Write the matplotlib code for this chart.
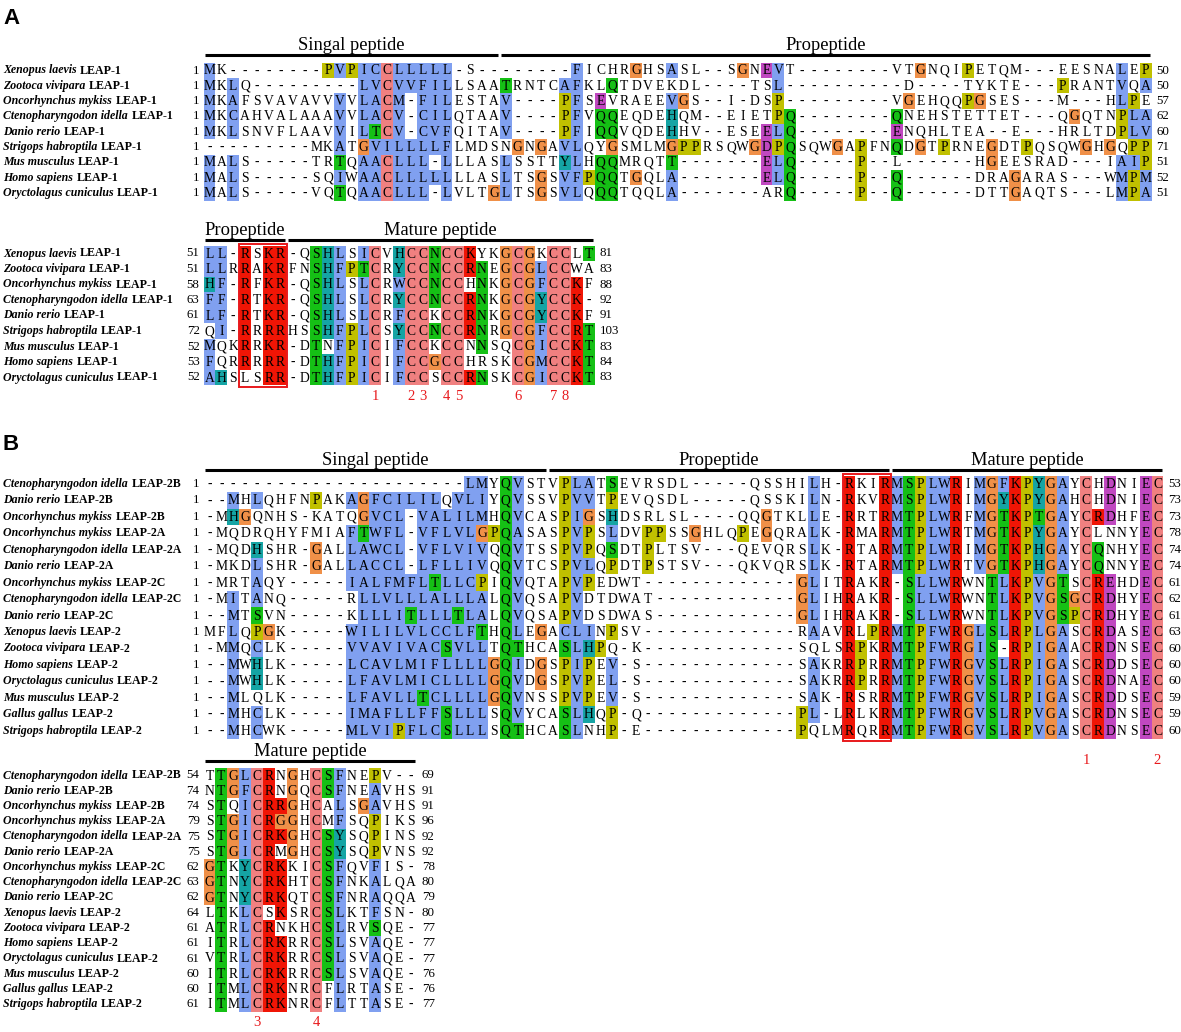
import matplotlib
matplotlib.use("Agg")
import matplotlib.pyplot as plt
from matplotlib.patches import Rectangle

# ---------------- data ----------------
a_species = ["Xenopus laevis", "Zootoca vivipara", "Oncorhynchus mykiss",
             "Ctenopharyngodon idella", "Danio rerio", "Strigops habroptila",
             "Mus musculus", "Homo sapiens", "Oryctolagus cuniculus"]
a_tags = ["LEAP-1"] * 9

a1_seqs = [
    "MK--------PVPICCLLLLL-S--------FICHRGHSASL--SGNEVT--------VTGNQIPETQM---EESNALEP",
    "MKLQ---------LVCVVFILLSAATRNTCAFKLQTDVEKDL----TSL----------D----TYKTE---PRANTVQA",
    "MKAFSVAVAVVVVLACM-FILESTAV----PFSEVRAEEVGS--I-DSP---------VGEHQQPGSES---M---HLPE",
    "MKCAHVALAAAVVLACV-CILQTAAV----PFVQQEQDEHQM--EIETPQ--------QNEHSTETTET---QGQTNPLA",
    "MKLSNVFLAAVVILTCV-CVFQITAV----PFIQQVQDEHHV--ESEELQ--------ENQHLTEA--E---HRLTDPLV",
    "---------MKATGVILLLLFLMDSNGNGAVLQYGSMLMGPPRSQWGDPQSQWGAPFNQDGTPRNEGDTPQSQWGHGQPP",
    "MALS-----TRTQAACLLL-LLLASLSSTTYLHQQMRQTT-------ELQ-----P--L------HGEESRAD---IAIP",
    "MALS-----SQIWAACLLLLLLLASLTSGSVFPQQTGQLA-------ELQ-----P--Q------DRAGARAS---WMPM",
    "MALS-----VQTQAACLLL-LVLTGLTSGSVLQQQTQQLA-------ARQ-----P--Q------DTTGAQTS---LMPA",
]
a1_start = [1, 1, 1, 1, 1, 1, 1, 1, 1]
a1_end = [50, 50, 57, 62, 60, 71, 51, 52, 51]
a1_regions = [("Singal peptide", 1, 25), ("Propeptide", 26, 80)]

a2_seqs = [
    "LL-RSKR-QSHLSICVHCCNCCKYKGCGKCCLT",
    "LLRRAKRFNSHFPTCRYCCNCCRNEGCGLCCWA",
    "HF-RFKR-QSHLSLCRWCCNCCHNKGCGFCCKF",
    "FF-RTKR-QSHLSLCRYCCNCCRNKGCGYCCK-",
    "LF-RTKR-QSHLSLCRFCCKCCRNKGCGYCCKF",
    "QI-RRRRHSSHFPLCSYCCNCCRNRGCGFCCRT",
    "MQKRRKR-DTNFPICIFCCKCCNNSQCGICCKT",
    "FQRRRRR-DTHFPICIFCCGCCHRSKCGMCCKT",
    "AHSLSRR-DTHFPICIFCCSCCRNSKCGICCKT",
]
a2_start = [51, 51, 58, 63, 61, 72, 52, 53, 52]
a2_end = [81, 83, 88, 92, 91, 103, 83, 84, 83]
a2_regions = [("Propeptide", 1, 7), ("Mature peptide", 8, 33)]
a2_box = (4, 7)
a2_cys = [(15, "1"), (18, "2"), (19, "3"), (21, "4"), (22, "5"), (27, "6"), (30, "7"), (31, "8")]

b_species = ["Ctenopharyngodon idella", "Danio rerio", "Oncorhynchus mykiss",
             "Oncorhynchus mykiss", "Ctenopharyngodon idella", "Danio rerio",
             "Oncorhynchus mykiss", "Ctenopharyngodon idella", "Danio rerio",
             "Xenopus laevis", "Zootoca vivipara", "Homo sapiens",
             "Oryctolagus cuniculus", "Mus musculus", "Gallus gallus",
             "Strigops habroptila"]
b_tags = ["LEAP-2B", "LEAP-2B", "LEAP-2B", "LEAP-2A", "LEAP-2A", "LEAP-2A",
          "LEAP-2C", "LEAP-2C", "LEAP-2C", "LEAP-2", "LEAP-2", "LEAP-2",
          "LEAP-2", "LEAP-2", "LEAP-2", "LEAP-2"]

b1_seqs = [
    "----------------------LMYQVSTVPLATSEVRSDL-----QSSHILH-RKIRMSPLWRIMGFKPYGAYCHDNIEC",
    "--MHLQHFNPAKAGFCILILQVLIYQVSSVPVVTPEVQSDL-----QSSKILN-RKVRMSPLWRIMGYKPYGAHCHDNIEC",
    "-MHGQNHS-KATQGVCL-VALILMHQVCASPIGSHDSRLSL----QQGTKLLE-RRTRMTPLWRFMGTKPTGAYCRDHFEC",
    "-MQDRQHYFMIAFTWFL-VFLVLGPQASASPVPSLDVPPSSGHLQPEGQRALK-RMARMTPLWRTMGTKPYGAYCLNNYEC",
    "-MQDHSHR-GALLAWCL-VFLVIVQQVTSSPVPQSDTPLTSV---QEVQRSLK-RTARMTPLWRIMGTKPHGAYCQNHYEC",
    "-MKDLSHR-GALLACCL-LFLLIVQQVTCSPVLQPDTPSTSV---QKVQRSLK-RTARMTPLWRTVGTKPHGAYCQNNYEC",
    "-MRTAQY-----IALFMFLTLLCPIQVQTAPVPEDWT-------------GLITRAKR-SLLWRWNTLKPVGTSCREHDEC",
    "-MITANQ-----RLLVLLLALLLALQVQSAPVDTDWAT------------GLIHRAKR-SLLWRWNTLKPVGSGCRDHYEC",
    "--MTSVN-----KLLLITLLLTLALQVQSAPVDSDWAS------------GLIHRAKR-SLLWRWNTLKPVGSPCRDHYEC",
    "MFLQPGK-----WILILVLCCLFTHQLEGACLINPSV-------------RAAVRLPRMTPFWRGLSLRPLGASCRDASEC",
    "-MMQCLK-----VVAVIVACSVLLTQTHCASLHPQ-K-------------SQLSRPKRMTPFWRGIS-RPIGAACRDNSEC",
    "--MWHLK-----LCAVLMIFLLLLGQIDGSPIPEV-S-------------SAKRRPRRMTPFWRGVSLRPIGASCRDDSEC",
    "--MWHLK-----LFAVLMICLLLLGQVDGSPVPEL-S-------------SAKRRPRRMTPFWRGVSLRPIGASCRDNAEC",
    "--MLQLK-----LFAVLLTCLLLLGQVNSSPVPEV-S-------------SAK-RSRRMTPFWRGVSLRPIGASCRDDSEC",
    "--MHCLK-----IMAFLLFFSLLLSQVYCASLHQP-Q-------------PL-LRLKRMTPFWRGVSLRPVGASCRDNSEC",
    "--MHCWK-----MLVIPFLCSLLLSQTHCASLNHP-E-------------PQLMRQRRMTPFWRGVSLRPVGASCRDNSEC",
]
b1_start = [1] * 16
b1_end = [53, 73, 73, 78, 74, 74, 61, 62, 61, 63, 60, 60, 60, 59, 59, 60]
b1_regions = [("Singal peptide", 1, 29), ("Propeptide", 30, 58), ("Mature peptide", 59, 81)]
b1_box = (55, 58)
b1_cys = [(75, "1"), (81, "2")]

b2_seqs = [
    "TTGLCRNGHCSFNEPV--",
    "NTGFCRNGQCSFNEAVHS",
    "STQICRRGHCALSGAVHS",
    "STGICRGGHCMFSQPIKS",
    "STGICRKGHCSYSQPINS",
    "STGICRMGHCSYSQPVNS",
    "GTKYCRKKICSFQVFIS-",
    "GTNYCRKHTCSFNKALQA",
    "GTNYCRKQTCSFNRAQQA",
    "LTKLCSKSRCSLKTFSN-",
    "ATRLCRNKHCSLRVSQE-",
    "ITRLCRKRRCSLSVAQE-",
    "VTRLCRKRRCSLSVAQE-",
    "ITRLCRKRRCSLSVAQE-",
    "ITMLCRKNRCFLRTASE-",
    "ITMLCRKNRCFLTTASE-",
]
b2_start = [54, 74, 74, 79, 75, 75, 62, 63, 62, 64, 61, 61, 61, 60, 60, 61]
b2_end = [69, 91, 91, 96, 92, 92, 78, 80, 79, 80, 77, 77, 77, 76, 76, 77]
b2_regions = [("Mature peptide", 1, 18)]
b2_cys = [(5, "3"), (10, "4")]

# ---------------- clustalx colouring ----------------
CLR = {"blue": "#80a0f0", "red": "#f01505", "green": "#15c015", "pink": "#f08080",
       "magenta": "#c048c0", "orange": "#f09048", "yellow": "#c0c000", "cyan": "#15a4a4"}


def clustalx(res, col):
    n = len(col)

    def pct(s):
        return 100.0 * sum(ch in s for ch in col) / n

    def big(s):
        return any(pct(ch) > 85 for ch in s)

    hyd = pct("WLVIMAFCHP") > 60
    if res == "G":
        return CLR["orange"]
    if res == "P":
        return CLR["yellow"]
    if res in "AILMFWV":
        if hyd or big("ACFHILMVWYP") or pct("P") > 50:
            return CLR["blue"]
    if res == "C":
        if pct("C") > 85:
            return CLR["pink"]
        if hyd or big("AFHILMVWYSP") or pct("P") > 50:
            return CLR["blue"]
    if res in "HY":
        if hyd or big("ACFHILMVWYP") or pct("P") > 50:
            return CLR["cyan"]
    if res in "ST":
        if hyd or pct("TS") > 50 or big("ST"):
            return CLR["green"]
    if res == "N":
        if pct("N") > 50 or big("ND"):
            return CLR["green"]
    if res == "Q":
        if pct("QE") > 50 or big("EKRQ") or pct("KR") > 60:
            return CLR["green"]
    if res == "E":
        if pct("ED") > 50 or big("DEQ") or pct("QE") > 50:
            return CLR["magenta"]
    if res == "D":
        if pct("ED") > 50 or big("DEN") or pct("N") > 50:
            return CLR["magenta"]
    if res in "KR":
        if pct("KR") > 60 or big("KRQ"):
            return CLR["red"]
    return None


# ---------------- drawing ----------------
SERIF = "Liberation Serif"
X0 = 209.5   # centre of column 1
DX = 11.85

fig = plt.figure(figsize=(11.81, 10.32), dpi=100)
ax = fig.add_axes([0, 0, 1, 1])
ax.set_xlim(0, 1181)
ax.set_ylim(1032, 0)
ax.axis("off")
renderer = fig.canvas.get_renderer()


def cx(c):
    return X0 + (c - 1) * DX


def draw_block(seqs, species, tags, starts, ends, y0, dy, regions, head_y,
               box=None, cys=None, cys_y=None):
    ncol = len(seqs[0])
    cols = ["".join(s[i] for s in seqs) for i in range(ncol)]
    for r, seq in enumerate(seqs):
        y = y0 + r * dy
        for i, ch in enumerate(seq):
            x = cx(i + 1)
            if ch != "-":
                fc = clustalx(ch, cols[i])
                if fc:
                    ax.add_patch(Rectangle((x - DX / 2, y - dy / 2), DX, dy,
                                           facecolor=fc, edgecolor="none", zorder=1))
            ax.text(x, y + 0.5, ch, ha="center", va="center", fontsize=9.8,
                    family=SERIF, zorder=3)
        t = ax.text(3, y, species[r], fontsize=8.6, family=SERIF, style="italic",
                    weight="bold", va="center", ha="left")
        w = t.get_window_extent(renderer=renderer).width
        ax.text(3 + w + 3.5, y, tags[r], fontsize=8.6, family=SERIF, weight="bold",
                va="center", ha="left")
        ax.text(cx(1) - DX / 2 - 4, y, str(starts[r]), fontsize=9.3, family=SERIF,
                ha="right", va="center")
        ax.text(cx(ncol) + DX / 2 + 5, y, str(ends[r]), fontsize=9.3, family=SERIF,
                ha="left", va="center")
    for label, c1, c2 in regions:
        xa = cx(c1) - DX / 2 + 1.5
        xb = cx(c2) + DX / 2 - 1.5
        ax.plot([xa, xb], [head_y, head_y], color="black", lw=2.2,
                solid_capstyle="butt")
        ax.text((xa + xb) / 2, head_y - 5, label, fontsize=13.3, family=SERIF,
                ha="center", va="baseline")
    if box:
        top = y0 - dy / 2 - 2
        bot = y0 + (len(seqs) - 1) * dy + dy / 2 + 2
        ax.add_patch(Rectangle((cx(box[0]) - DX / 2, top), (box[1] - box[0] + 1) * DX,
                               bot - top, facecolor="none", edgecolor="#e8191c",
                               lw=1.4, zorder=4))
    if cys:
        for c, lab in cys:
            ax.text(cx(c), cys_y, lab, color="#e8191c", fontsize=10.5, family=SERIF,
                    ha="center", va="center")


draw_block(a1_seqs, a_species, a_tags, a1_start, a1_end, 70.5, 15.3, a1_regions, 55)
draw_block(a2_seqs, a_species, a_tags, a2_start, a2_end, 253.5, 15.5, a2_regions, 240,
           box=a2_box, cys=a2_cys, cys_y=397)
draw_block(b1_seqs, b_species, b_tags, b1_start, b1_end, 484, 16.45, b1_regions, 470,
           box=b1_box, cys=b1_cys, cys_y=761)
draw_block(b2_seqs, b_species, b_tags, b2_start, b2_end, 775.5, 15.25, b2_regions, 761,
           cys=b2_cys, cys_y=1022)

ax.text(3, 18, "A", fontsize=16, weight="bold", family="Liberation Sans",
        ha="left", va="center")
ax.text(3, 445, "B", fontsize=16, weight="bold", family="Liberation Sans",
        ha="left", va="center")

fig.savefig("out.png", dpi=100)
